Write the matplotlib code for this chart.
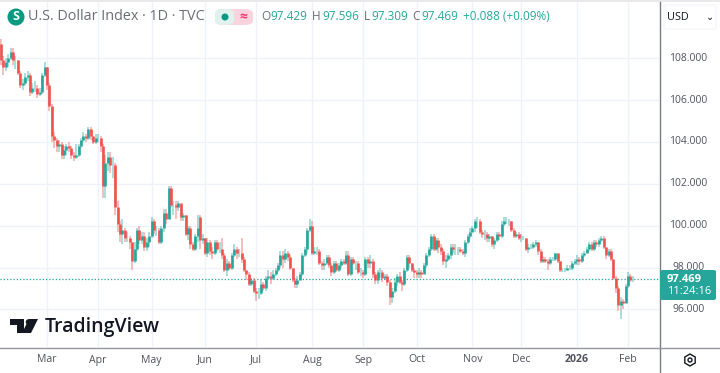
import matplotlib
matplotlib.use('Agg')
import matplotlib.pyplot as plt
from matplotlib.patches import Circle, FancyBboxPatch, Polygon, RegularPolygon, Rectangle

# daily closes, month by month
closes = [
    108.7, 107.9, 107.6, 107.8, 108.0, 108.3, 107.9, 107.9, 107.3, 106.7, 106.8, 107.1, 107.2, 106.4, 106.6, 106.6, 106.3, 106.4, 107.2, 107.6,
    106.7, 105.7, 104.3, 104.1, 103.8, 103.9, 103.4, 103.6, 103.8, 103.7, 103.4, 103.3, 103.4, 103.8, 104.1, 104.3, 104.2, 104.6, 104.3, 104.0, 104.2,
    104.2, 103.8, 101.9, 103.0, 103.3, 102.9, 102.9, 100.9, 100.1, 99.6, 99.8, 99.4, 99.4, 99.2, 98.3, 98.9, 99.8, 99.3, 99.5, 99.0, 99.2, 99.5,
    100.2, 99.8, 99.8, 99.2, 99.9, 100.6, 100.3, 101.8, 101.0, 101.0, 100.9, 101.1, 100.4, 100.5, 99.6, 99.9, 99.1, 98.9, 99.5, 99.9, 99.3, 99.4,
    98.7, 99.2, 98.8, 98.7, 99.2, 98.9, 98.9, 98.6, 97.9, 98.2, 98.0, 98.6, 98.9, 98.7, 98.7, 98.4, 97.9, 97.7, 97.2, 97.4, 96.9,
    96.8, 96.8, 97.2, 97.0, 97.5, 97.6, 97.5, 97.7, 97.9, 98.1, 98.6, 98.4, 98.7, 98.5, 98.0, 97.4, 97.2, 97.4, 97.7, 98.6, 98.9, 99.8, 100.0,
    98.7, 98.8, 98.8, 98.2, 98.1, 98.2, 98.5, 98.1, 97.8, 98.2, 97.9, 98.1, 98.3, 98.2, 98.6, 97.7, 98.4, 98.2, 98.2, 97.8, 97.8,
    97.7, 98.4, 98.2, 98.3, 97.7, 97.4, 97.8, 97.8, 97.5, 97.6, 97.3, 96.6, 96.9, 97.3, 97.6, 97.3, 97.2, 97.9, 98.5, 98.2, 97.9, 97.8,
    97.7, 97.8, 97.7, 98.1, 98.6, 98.9, 99.5, 98.9, 99.3, 99.0, 98.8, 98.3, 98.4, 98.6, 99.0, 98.9, 98.9, 98.9, 98.8, 98.7, 99.2, 99.5, 99.7,
    99.9, 100.2, 100.2, 99.7, 99.6, 99.6, 99.4, 99.5, 99.1, 99.3, 99.6, 99.5, 100.1, 100.2, 100.2, 100.2, 99.8, 99.5, 99.6, 99.4,
    99.4, 99.4, 98.9, 99.0, 99.0, 99.1, 99.2, 98.8, 98.3, 98.4, 98.3, 98.2, 98.4, 98.4, 98.7, 98.3, 97.9, 97.9, 97.9, 98.0, 98.0, 98.2, 98.3,
    98.4, 98.3, 98.6, 98.7, 98.9, 99.1, 98.9, 99.2, 99.1, 99.3, 99.4, 99.0, 98.6, 98.8, 98.4, 97.5, 97.0, 96.2, 96.4, 96.3, 97.1,
    97.6, 97.38, 97.469,
]
highs = [
    109.3, 108.9, 108.1, 108.0, 108.2, 108.5, 108.5, 108.1, 107.9, 107.4, 107.0, 107.3, 107.4, 107.3, 106.8, 106.9, 106.7, 106.6, 107.3, 107.8,
    107.6, 106.8, 105.8, 104.5, 104.2, 104.1, 104.0, 103.8, 103.9, 104.0, 103.8, 103.5, 103.9, 103.9, 104.2, 104.5, 104.4, 104.7, 104.7, 104.3, 104.4,
    104.4, 104.3, 103.9, 103.4, 103.5, 103.5, 103.3, 103.0, 101.2, 100.2, 100.3, 99.9, 99.7, 99.5, 99.2, 99.2, 99.9, 100.0, 99.7, 99.7, 99.4, 99.7,
    100.4, 100.3, 100.0, 99.9, 100.0, 100.8, 100.8, 101.9, 101.9, 101.2, 101.2, 101.2, 101.0, 100.6, 100.5, 100.0, 100.0, 99.2, 99.6, 100.5, 100.5, 99.6,
    99.4, 99.4, 99.3, 99.0, 99.3, 99.3, 99.2, 99.4, 98.7, 98.4, 98.3, 98.7, 99.1, 99.0, 98.9, 99.4, 98.5, 97.9, 97.8, 97.5, 97.5,
    97.0, 97.0, 97.4, 97.3, 97.6, 97.9, 97.8, 97.9, 98.0, 98.2, 98.8, 98.8, 98.9, 98.8, 98.6, 98.0, 97.5, 97.6, 97.8, 98.7, 99.0, 99.9, 100.3,
    100.2, 99.0, 99.0, 98.9, 98.3, 98.4, 98.6, 98.6, 98.2, 98.3, 98.3, 98.2, 98.4, 98.4, 98.8, 98.8, 98.5, 98.5, 98.3, 98.3, 98.0,
    97.9, 98.5, 98.5, 98.6, 98.4, 97.8, 97.9, 98.0, 97.9, 97.7, 97.7, 97.4, 97.0, 97.5, 97.7, 97.8, 97.4, 98.0, 98.6, 98.6, 98.2, 98.0,
    97.9, 98.0, 97.9, 98.2, 98.7, 99.0, 99.6, 99.6, 99.4, 99.4, 99.1, 98.9, 98.6, 98.7, 99.1, 99.1, 99.1, 99.0, 99.0, 98.9, 99.3, 99.6, 99.9,
    100.0, 100.3, 100.4, 100.3, 99.8, 99.8, 99.7, 99.6, 99.5, 99.4, 99.7, 99.7, 100.2, 100.4, 100.4, 100.3, 100.2, 99.9, 99.7, 99.7,
    99.6, 99.5, 99.4, 99.1, 99.1, 99.2, 99.3, 99.2, 98.9, 98.5, 98.5, 98.4, 98.5, 98.5, 98.7, 98.7, 98.3, 98.0, 98.0, 98.1, 98.1, 98.3, 98.4,
    98.6, 98.5, 98.7, 98.8, 99.0, 99.2, 99.2, 99.3, 99.3, 99.4, 99.5, 99.5, 99.0, 98.9, 98.9, 98.4, 97.6, 97.1, 96.6, 96.5, 97.2,
    97.8, 97.7, 97.596,
]
lows = [
    107.6, 107.7, 107.2, 107.4, 107.6, 107.9, 107.7, 107.5, 107.2, 106.6, 106.5, 106.7, 106.9, 106.2, 106.3, 106.4, 106.1, 106.2, 106.3, 107.1,
    106.5, 105.5, 104.0, 103.7, 103.5, 103.5, 103.2, 103.2, 103.4, 103.5, 103.2, 103.1, 103.2, 103.3, 103.7, 104.0, 104.0, 104.1, 104.1, 103.9, 103.9,
    104.0, 103.5, 101.3, 101.3, 102.6, 102.5, 102.3, 100.5, 99.7, 99.2, 99.1, 99.2, 99.2, 98.9, 97.9, 98.2, 98.8, 99.1, 99.1, 98.8, 98.8, 99.0,
    99.4, 99.6, 99.5, 99.1, 99.1, 99.7, 100.1, 100.3, 100.9, 100.5, 100.3, 100.7, 100.2, 100.2, 99.5, 99.3, 98.9, 98.8, 98.8, 99.2, 98.9, 99.1,
    98.6, 98.5, 98.6, 98.4, 98.6, 98.8, 98.7, 98.4, 97.8, 97.6, 97.9, 97.9, 98.5, 98.4, 98.5, 98.2, 97.8, 97.4, 97.1, 97.1, 96.8,
    96.4, 96.5, 96.7, 96.9, 96.9, 97.4, 97.2, 97.4, 97.6, 97.8, 98.0, 98.0, 98.2, 98.3, 97.9, 97.3, 97.0, 97.0, 97.4, 97.6, 98.5, 98.7, 99.7,
    98.6, 98.6, 98.6, 98.1, 97.9, 97.9, 98.1, 98.0, 97.6, 97.7, 97.8, 97.8, 98.0, 98.1, 98.1, 97.6, 97.6, 98.1, 97.9, 97.7, 97.6,
    97.5, 97.6, 98.0, 98.0, 97.5, 97.2, 97.2, 97.5, 97.3, 97.4, 97.1, 96.2, 96.3, 96.8, 97.1, 97.2, 96.9, 97.1, 97.8, 98.0, 97.8, 97.5,
    97.5, 97.5, 97.5, 97.8, 98.0, 98.5, 98.8, 98.8, 98.8, 98.7, 98.6, 98.1, 98.0, 98.3, 98.4, 98.7, 98.6, 98.6, 98.7, 98.6, 98.5, 99.1, 99.4,
    99.7, 99.7, 99.9, 99.6, 99.4, 99.3, 99.2, 99.2, 99.0, 98.9, 99.2, 99.3, 99.4, 100.0, 100.1, 100.0, 99.7, 99.4, 99.4, 99.3,
    99.2, 99.3, 98.8, 98.7, 98.9, 98.9, 99.0, 98.6, 98.2, 98.2, 98.2, 97.9, 98.1, 98.3, 98.3, 98.2, 97.8, 97.8, 97.8, 97.9, 97.9, 97.9, 98.1,
    98.1, 98.1, 98.2, 98.5, 98.7, 98.8, 98.8, 98.8, 99.0, 99.0, 99.2, 98.9, 98.4, 98.5, 98.3, 97.4, 96.8, 95.9, 95.55, 96.0, 96.3,
    97.0, 97.3, 97.309,
]
first_open = 108.9  # open of the first bar, the rest open at the previous close
last_open = 97.429
# bars that gapped away from the previous close
open_gaps = {83: 100.4, 48: 102.9, 129: 100.0}

month_labels = ['Mar', 'Apr', 'May', 'Jun', 'Jul', 'Aug', 'Sep', 'Oct', 'Nov', 'Dec', '2026', 'Feb']
month_bars = [20, 41, 63, 85, 106, 129, 150, 172, 195, 215, 238, 259]
price_ticks = [96, 98, 100, 102, 104, 106, 108]

GREEN = '#26a69a'
RED = '#ef5350'
GRID = '#eef2f8'
TEXT = '#131722'
W, H = 720, 373

fig = plt.figure(figsize=(W / 100, H / 100), dpi=100)
plt.rcParams['font.family'] = ['Open Sans', 'DejaVu Sans']

# chart panel: 0..659 px wide, 2..347 px down
ax = fig.add_axes([0, (H - 347) / H, 659 / W, 345 / H])
px_per_bar = 2.431
ax.set_xlim(1.6 / px_per_bar, (659 + 1.6) / px_per_bar)
# 20.92 px per point, 108 sits at y=58.3 px
px_per_pt = 20.92
ax.set_ylim(108 - (347 - 58.3) / px_per_pt, 108 + (58.3 - 2) / px_per_pt)

opens = [first_open] + closes[:-1]
opens[-1] = last_open
for i, o in open_gaps.items():
    opens[i] = o
for i in range(len(closes)):
    col = GREEN if closes[i] >= opens[i] else RED
    ax.vlines(i, lows[i], highs[i], color=col, lw=1.2, alpha=0.45, zorder=3)
    ax.vlines(i, min(opens[i], closes[i]), max(opens[i], closes[i]), color=col, lw=1.9, zorder=4)

ax.set_xticks(month_bars)
ax.set_yticks(price_ticks)
ax.grid(True, color=GRID, lw=1, zorder=0)
ax.set_axisbelow(True)
ax.tick_params(length=0, labelleft=False, labelbottom=False)
for s in ax.spines.values():
    s.set_visible(False)
ax.axhline(closes[-1], color=GREEN, lw=0.9, ls=(0, (1, 1.6)), zorder=2)

def px_x(x):
    return x / W

def px_y(y):
    return 1 - y / H

# frame lines
fig.add_artist(Rectangle((0, px_y(2)), 1, 2 / H, transform=fig.transFigure, color='#e9e9ea', lw=0))
fig.add_artist(plt.Line2D([px_x(659.5)] * 2, [0, px_y(2)], color='#787b86', lw=1))
fig.add_artist(plt.Line2D([0, 1], [px_y(347.5)] * 2, color='#9598a1', lw=1))

# month labels
for b, lab in zip(month_bars, month_labels):
    fig.text(px_x(-1.6 + b * px_per_bar), px_y(360), lab, ha='center', va='center', fontsize=7.6, color='#50535e',
             fontweight='bold' if lab == '2026' else 'normal')

# price labels
for p in price_ticks:
    fig.text(px_x(688.5), px_y(58.3 + (108 - p) * px_per_pt), f'{p:.3f}', ha='center', va='center', fontsize=7.5, color='#50535e')

# last price tag
fig.add_artist(FancyBboxPatch((px_x(660), px_y(300)), 56 / W, 30 / H, transform=fig.transFigure,
                              boxstyle='round,pad=0,rounding_size=0.004', color=GREEN, lw=0, zorder=5))
fig.text(px_x(684), px_y(279), '97.469', ha='center', va='center', fontsize=8, color='white', fontweight='bold', zorder=6)
fig.text(px_x(689), px_y(292), '11:24:16', ha='center', va='center', fontsize=8, color='white', zorder=6)

# currency button
fig.add_artist(FancyBboxPatch((px_x(664), px_y(29)), 52 / W, 24 / H, transform=fig.transFigure,
                              boxstyle='round,pad=0,rounding_size=0.005', fc='white', ec='#f0f3fa', lw=0.8))
fig.text(px_x(667), px_y(17.5), 'USD', ha='left', va='center', fontsize=7.8, color=TEXT)
fig.text(px_x(710), px_y(17.5), '⌄', ha='center', va='center', fontsize=7, color=TEXT)

# header
fig.add_artist(Circle((16 / 100, (H - 17) / 100), 8.5 / 100, transform=fig.dpi_scale_trans, color='#089981', lw=0))
fig.text(px_x(16), px_y(17), 'S', ha='center', va='center', fontsize=9, color='white', fontweight='bold')
fig.text(px_x(28), px_y(17), 'U.S. Dollar Index · 1D · TVC', ha='left', va='center', fontsize=10.4, color='#6a6d78')
fig.add_artist(FancyBboxPatch((px_x(215), px_y(25)), 38 / W, 16 / H, transform=fig.transFigure,
                              boxstyle='round,pad=0,rounding_size=0.012', color='#fbd3de', lw=0))
fig.add_artist(FancyBboxPatch((px_x(215), px_y(25)), 19 / W, 16 / H, transform=fig.transFigure,
                              boxstyle='round,pad=0,rounding_size=0.012', color='#dff2ee', lw=0))
fig.add_artist(Circle((225 / 100, (H - 17) / 100), 3.5 / 100, transform=fig.dpi_scale_trans, color='#089981', lw=0))
fig.text(px_x(243), px_y(17), '≈', ha='center', va='center', fontsize=10, color='#f23670', fontweight='bold')
x_pos = [261, 270, 312, 322, 364, 371, 412, 421]
ohlc = ['O', '97.429', 'H', '97.596', 'L', '97.309', 'C', '97.469']
for xp, txt in zip(x_pos, ohlc):
    fig.text(px_x(xp), px_y(17), txt, ha='left', va='center', fontsize=8.5, color='#6a6d78' if txt.isalpha() else GREEN)
fig.text(px_x(463), px_y(17), '+0.088 (+0.09%)', ha='left', va='center', fontsize=8.5, color=GREEN)

# TradingView mark
logo_x, logo_y = 10, 319
logo_parts = [
    [(0, 0), (14, 0), (14, 14), (7, 14), (7, 6), (0, 6)],
    [(19, 0), (28, 0), (21, 14), (12, 14)],
]
for part in logo_parts:
    fig.add_artist(Polygon([(px_x(logo_x + a), px_y(logo_y + b)) for a, b in part], transform=fig.transFigure, color=TEXT, lw=0))
fig.add_artist(Circle(((logo_x + 18.5) / 100, (H - logo_y - 3) / 100), 2.8 / 100, transform=fig.dpi_scale_trans, color=TEXT, lw=0))
fig.text(px_x(45), px_y(327), 'TradingView', ha='left', va='center', fontsize=14, color=TEXT, fontweight='semibold')

# settings icon
fig.add_artist(RegularPolygon((690 / 100, (H - 360) / 100), 6, radius=6 / 100, transform=fig.dpi_scale_trans, fc='white', ec=TEXT, lw=1))
fig.add_artist(Circle((690 / 100, (H - 360) / 100), 2 / 100, transform=fig.dpi_scale_trans, fc='white', ec=TEXT, lw=1))

fig.savefig('out.png', dpi=100)
